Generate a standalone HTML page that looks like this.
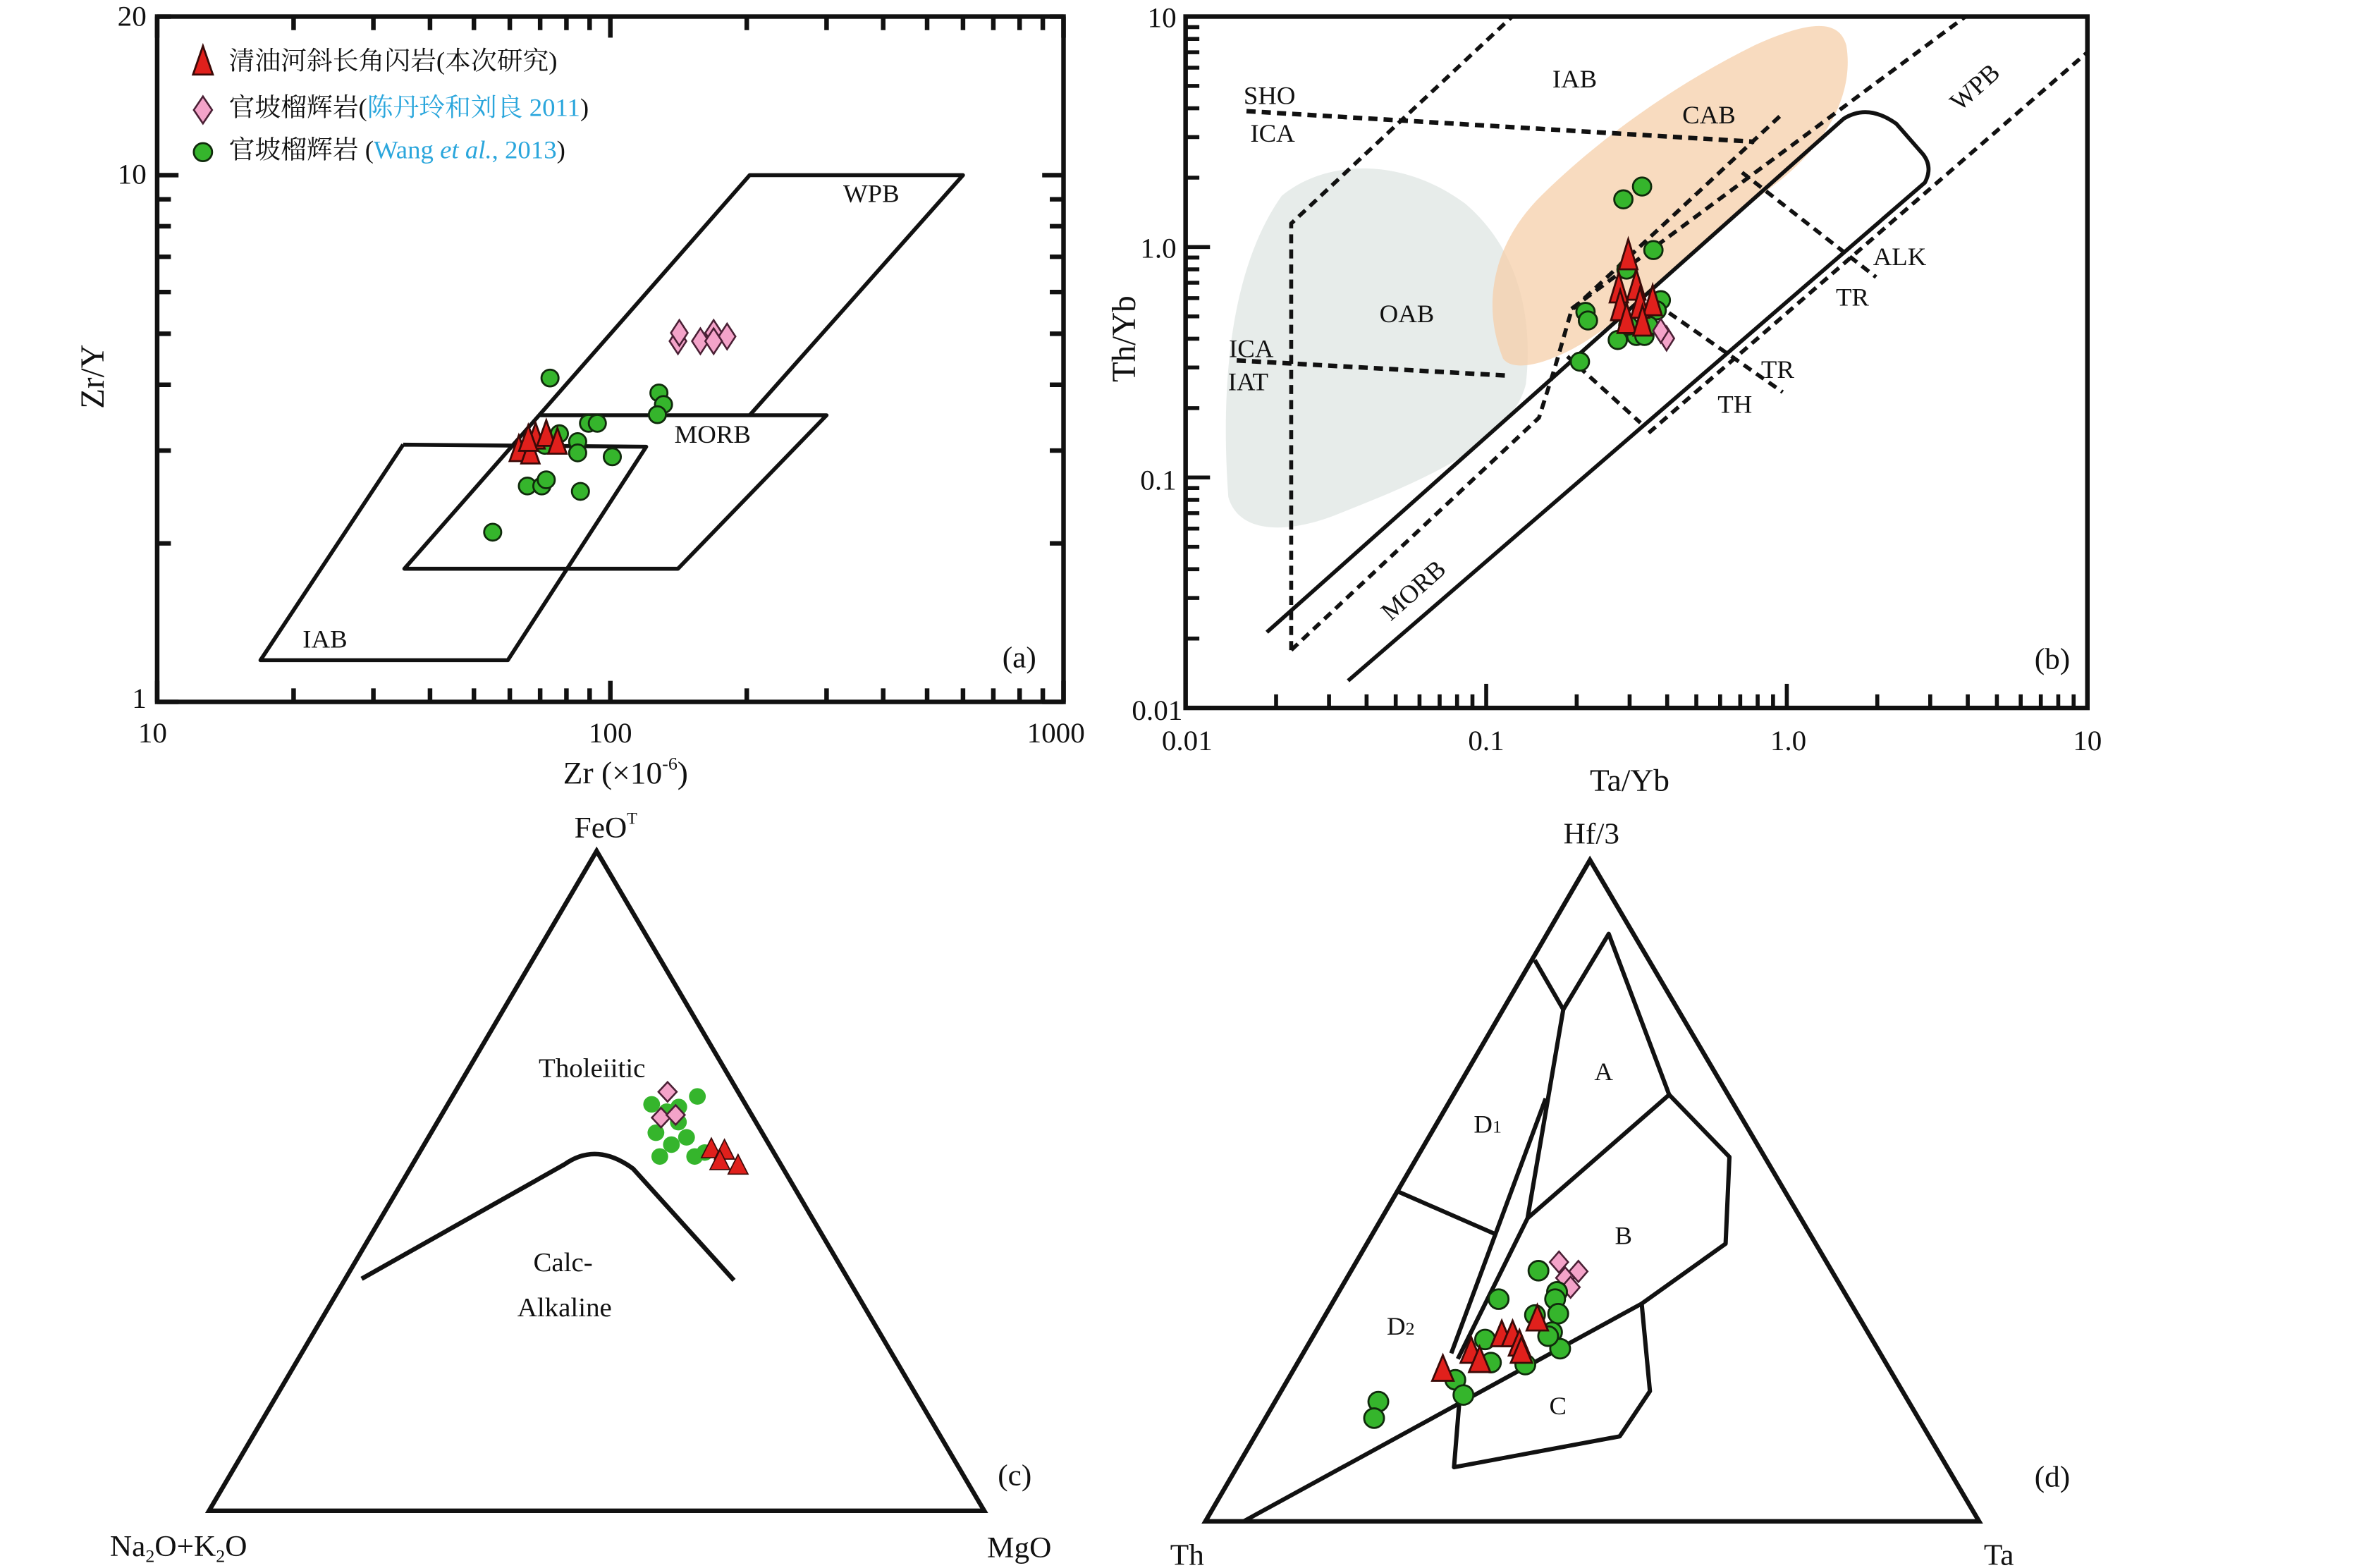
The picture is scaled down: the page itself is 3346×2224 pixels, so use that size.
<!DOCTYPE html>
<html><head><meta charset="utf-8">
<style>
html,body{margin:0;padding:0;background:#fff;}
svg{display:block;}
text{font-family:"Liberation Serif","Noto Serif CJK SC",serif;fill:#111;}
.cjk{font-family:"Liberation Serif","Noto Serif CJK SC","Noto Sans CJK SC",serif;}
</style></head>
<body>
<svg id="fig" xmlns="http://www.w3.org/2000/svg" width="3346" height="2224" viewBox="0 0 1546 1041" preserveAspectRatio="none">
<rect x="0" y="0" width="1546" height="1041" fill="#fff"/>
<g id="pa">
  <text x="96" y="17" font-size="19" text-anchor="end">20</text>
  <text x="96" y="122" font-size="19" text-anchor="end">10</text>
  <text x="96" y="470" font-size="19" text-anchor="end">1</text>
  <text x="100" y="493" font-size="19" text-anchor="middle">10</text>
  <text x="400" y="493" font-size="19" text-anchor="middle">100</text>
  <text x="692" y="493" font-size="19" text-anchor="middle">1000</text>
  <text x="410" y="520" font-size="21" text-anchor="middle">Zr (×10<tspan font-size="12" dy="-9">-6</tspan><tspan dy="9">)</tspan></text>
  <text x="0" y="0" font-size="22" text-anchor="middle" transform="translate(68,250) rotate(-90)">Zr/Y</text>
  <text x="571" y="134" font-size="17" text-anchor="middle">WPB</text>
  <text x="467" y="294" font-size="17" text-anchor="middle">MORB</text>
  <text x="213" y="430" font-size="17" text-anchor="middle">IAB</text>
  <text x="668" y="443" font-size="20" text-anchor="middle">(a)</text>
  <text class="cjk" x="150" y="46" font-size="17">清油河斜长角闪岩(本次研究)</text>
  <text class="cjk" x="150" y="77" font-size="17">官坡榴辉岩(<tspan fill="#2aa6dc">陈丹玲和刘良 2011</tspan>)</text>
  <text class="cjk" x="150" y="105" font-size="17">官坡榴辉岩 (<tspan fill="#2aa6dc">Wang <tspan font-style="italic">et al.</tspan>, 2013</tspan>)</text>
</g>
<g id="pb">
  <path d="M805,330 C800,260 805,180 840,130 C870,105 920,105 960,135 C995,165 1005,210 1000,255 C990,295 930,320 880,340 C845,355 812,355 805,330 Z" fill="#dfe5e3" opacity="0.75"/>
  <path d="M985,238 C970,200 980,160 1010,130 C1050,90 1100,55 1150,30 C1185,14 1205,12 1210,30 C1215,60 1200,95 1160,125 C1110,165 1070,210 1030,232 C1005,245 990,245 985,238 Z" fill="#f6cfaa" opacity="0.75"/>
  <text x="771" y="18" font-size="19" text-anchor="end">10</text>
  <text x="771" y="171" font-size="19" text-anchor="end">1.0</text>
  <text x="771" y="325" font-size="19" text-anchor="end">0.1</text>
  <text x="775" y="478" font-size="19" text-anchor="end">0.01</text>
  <text x="778" y="498" font-size="19" text-anchor="middle">0.01</text>
  <text x="974" y="498" font-size="19" text-anchor="middle">0.1</text>
  <text x="1172" y="498" font-size="19" text-anchor="middle">1.0</text>
  <text x="1368" y="498" font-size="19" text-anchor="middle">10</text>
  <text x="1068" y="525" font-size="21" text-anchor="middle">Ta/Yb</text>
  <text x="0" y="0" font-size="22" text-anchor="middle" transform="translate(744,225) rotate(-90)">Th/Yb</text>
  <text x="832" y="69" font-size="17" text-anchor="middle">SHO</text>
  <text x="834" y="94" font-size="17" text-anchor="middle">ICA</text>
  <text x="1032" y="58" font-size="17" text-anchor="middle">IAB</text>
  <text x="1120" y="82" font-size="17" text-anchor="middle">CAB</text>
  <text x="922" y="214" font-size="17" text-anchor="middle">OAB</text>
  <text x="820" y="237" font-size="17" text-anchor="middle">ICA</text>
  <text x="818" y="259" font-size="17" text-anchor="middle">IAT</text>
  <text x="1245" y="176" font-size="17" text-anchor="middle">ALK</text>
  <text x="1214" y="203" font-size="17" text-anchor="middle">TR</text>
  <text x="1165" y="251" font-size="17" text-anchor="middle">TR</text>
  <text x="1137" y="274" font-size="17" text-anchor="middle">TH</text>
  <text x="0" y="0" font-size="17" text-anchor="middle" transform="translate(1298,62) rotate(-42)">WPB</text>
  <text x="0" y="0" font-size="17" text-anchor="middle" transform="translate(930,396) rotate(-42)">MORB</text>
  <text x="1345" y="444" font-size="20" text-anchor="middle">(b)</text>
</g>
<g id="pc">
  <text x="397" y="556" font-size="20" text-anchor="middle">FeO<tspan font-size="11" dy="-9">T</tspan></text>
  <text x="117" y="1033" font-size="20" text-anchor="middle">Na<tspan font-size="12" dy="4">2</tspan><tspan dy="-4">O+K</tspan><tspan font-size="12" dy="4">2</tspan><tspan dy="-4">O</tspan></text>
  <text x="668" y="1034" font-size="20" text-anchor="middle">MgO</text>
  <text x="388" y="715" font-size="18" text-anchor="middle">Tholeiitic</text>
  <text x="369" y="844" font-size="18" text-anchor="middle">Calc-</text>
  <text x="370" y="874" font-size="18" text-anchor="middle">Alkaline</text>
  <text x="665" y="986" font-size="20" text-anchor="middle">(c)</text>
</g>
<g id="pd">
  <text x="1043" y="560" font-size="20" text-anchor="middle">Hf/3</text>
  <text x="778" y="1039" font-size="20" text-anchor="middle">Th</text>
  <text x="1310" y="1039" font-size="20" text-anchor="middle">Ta</text>
  <text x="1051" y="717" font-size="17" text-anchor="middle">A</text>
  <text x="1064" y="826" font-size="17" text-anchor="middle">B</text>
  <text x="1021" y="939" font-size="17" text-anchor="middle">C</text>
  <text x="975" y="752" font-size="17" text-anchor="middle">D<tspan font-size="12">1</tspan></text>
  <text x="918" y="886" font-size="17" text-anchor="middle">D<tspan font-size="12">2</tspan></text>
  <text x="1345" y="987" font-size="20" text-anchor="middle">(d)</text>
</g>
</svg>
<script>
// ---------- Panel (a) data: Zr (ppm) vs Zr/Y ----------
const aTriZr = [62.8, 66.6, 68.4, 72.2, 76.4, 65.9];
const aTriZrY = [3.03, 3.0, 3.2, 3.24, 3.13, 3.17];
const aDiaZr = [141, 142, 158, 169, 181, 169];
const aDiaZrY = [4.84, 5.02, 4.84, 5.02, 4.94, 4.84];
const aCirZr = [73.6, 128, 131, 127, 89.5, 93.6, 77.2, 84.7, 71.7, 84.7, 101, 65.6, 70.6, 72.2, 85.9, 55.0];
const aCirZrY = [4.12, 3.86, 3.67, 3.51, 3.38, 3.38, 3.23, 3.12, 3.07, 2.97, 2.92, 2.57, 2.57, 2.64, 2.51, 2.10];
const aXTicks = [10, 100, 1000];
const aYTicks = [1, 10, 20];
// ---------- Panel (b) data: Ta/Yb vs Th/Yb ----------
const bTriTa = [0.297, 0.276, 0.316, 0.279, 0.325, 0.358, 0.293, 0.331];
const bTriTh = [0.931, 0.668, 0.686, 0.559, 0.573, 0.588, 0.492, 0.480];
const bDiaTa = [0.398, 0.381];
const bDiaTh = [0.401, 0.433];
const bCirTa = [0.330, 0.286, 0.360, 0.214, 0.218, 0.293, 0.274, 0.316, 0.336, 0.381, 0.369, 0.205, 0.347, 0.297];
const bCirTh = [1.83, 1.61, 0.97, 0.523, 0.480, 0.798, 0.395, 0.411, 0.411, 0.588, 0.531, 0.318, 0.456, 0.456];
// ---------- Panel (c) data: FeOT / MgO fractions ----------
const cTriF = [0.550, 0.548, 0.532, 0.525];
const cTriM = [0.373, 0.391, 0.393, 0.420];
const cDiaF = [0.635, 0.596, 0.600];
const cDiaM = [0.274, 0.285, 0.302];
const cCirF = [0.616, 0.605, 0.628, 0.573, 0.589, 0.566, 0.537, 0.555, 0.537, 0.543, 0.612];
const cCirM = [0.263, 0.288, 0.316, 0.290, 0.311, 0.333, 0.313, 0.319, 0.358, 0.368, 0.300];
// ---------- Panel (d) data: Hf/3 and Ta fractions ----------
const dTriH = [0.232, 0.259, 0.245, 0.284, 0.284, 0.270, 0.259, 0.308];
const dTriT = [0.191, 0.214, 0.232, 0.241, 0.255, 0.271, 0.279, 0.275];
const dDiaH = [0.392, 0.378, 0.368, 0.354];
const dDiaT = [0.261, 0.293, 0.281, 0.295];
const dCirH = [0.379, 0.336, 0.347, 0.336, 0.314, 0.286, 0.261, 0.237, 0.240, 0.275, 0.214, 0.191, 0.181, 0.156, 0.312, 0.280];
const dCirT = [0.241, 0.211, 0.281, 0.284, 0.299, 0.305, 0.328, 0.295, 0.249, 0.224, 0.216, 0.238, 0.133, 0.140, 0.270, 0.303];

const NS = "http://www.w3.org/2000/svg";
const L = Math.log10;
function ax(v){ return 103 + 297 * (L(v) - 1); }
function ay(v){ return 466 - 349.7 * L(v); }
function bx(v){ return 777 + 197 * (L(v) + 2); }
function by(v){ return 470 - 153 * (L(v) + 2); }
function tc(F, M){ return [137 + 508 * (M + F / 2), 1003 - 438 * F]; }
function td(H, T){ return [790 + 507 * (T + H / 2), 1010 - 439 * H]; }
function z2(x, y){ return [777 + (x - 85) * 0.5324, 11 + (y - 35) * 0.3392]; }
function z3(x, y){ return [790 + (x - 45) * 0.3596, 571 + (y - 28) * 0.3061]; }

function mk(tag, attrs, parent){
  const e = document.createElementNS(NS, tag);
  for (const k in attrs) e.setAttribute(k, attrs[k]);
  parent.insertBefore(e, parent.querySelector('text'));
  return e;
}
function mkTop(tag, attrs, parent){
  const e = document.createElementNS(NS, tag);
  for (const k in attrs) e.setAttribute(k, attrs[k]);
  parent.appendChild(e);
  return e;
}
function pts(arr){ return arr.map(p => p[0].toFixed(1) + "," + p[1].toFixed(1)).join(" "); }
const RED = "#e0201c", GREEN = "#35b52c", PINK = "#f4a3c9";

function line(parent, arr, name, dashed, w){
  const el = mk("polyline", {points: pts(arr), fill: "none", stroke: "#111", "stroke-width": w || 2.6, "stroke-dasharray": dashed ? "6,4" : "none", "stroke-linejoin": "round"}, parent);
  
  
  return el;
}
function tri(parent, cx, cy, w, h, name, sw){
  const el = mkTop("polygon", {points: pts([[cx, cy - h/2], [cx - w/2, cy + h/2], [cx + w/2, cy + h/2]]), fill: RED, stroke: "#3a0a08", "stroke-width": sw == null ? 1.3 : sw}, parent);
  
  
}
function dia(parent, cx, cy, w, h, name){
  const el = mkTop("polygon", {points: pts([[cx, cy - h/2], [cx + w/2, cy], [cx, cy + h/2], [cx - w/2, cy]]), fill: PINK, stroke: "#4a2035", "stroke-width": 1.2}, parent);
  
  
}
function cir(parent, cx, cy, r, name, sw){
  const el = mkTop("circle", {cx: cx, cy: cy, r: r, fill: GREEN, stroke: "#102a0c", "stroke-width": sw == null ? 1.3 : sw}, parent);
  
  
}

// ===== Panel (a) =====
const pa = document.getElementById("pa");
const frameA = mk("rect", {x: 103, y: 11, width: 594, height: 455, fill: "none", stroke: "#111", "stroke-width": 3}, pa);


for (let d = 10; d <= 1000; d *= 10) {
  for (let m = 1; m < 10; m++) {
    const v = d * m; if (v > 1000) break;
    const x = ax(v), len = (m === 1) ? 14 : 9;
    const t1 = mk("line", {x1: x, y1: 466, x2: x, y2: 466 - len, stroke: "#111", "stroke-width": 3}, pa);
    
    
    const t2 = mk("line", {x1: x, y1: 11, x2: x, y2: 11 + len, stroke: "#111", "stroke-width": 3}, pa);
    
    
  }
}
for (let v = 1; v <= 20; v += (v < 10 ? 1 : 10)) {
  const y = ay(v), len = (v === 1 || v === 10) ? 14 : 9;
  const t1 = mk("line", {x1: 103, y1: y, x2: 103 + len, y2: y, stroke: "#111", "stroke-width": 3}, pa);
  
  
  const t2 = mk("line", {x1: 697, y1: y, x2: 697 - len, y2: y, stroke: "#111", "stroke-width": 3}, pa);
  
  
}
function A(x, y){ return [ax(x), ay(y)]; }
line(pa, [A(69.6,3.5), A(203,10), A(600,10), A(203,3.5)], "wpb-field-boundary");
line(pa, [A(69.6,3.5), A(300,3.5), A(141,1.79), A(35.1,1.79), A(69.6,3.5)], "morb-field-boundary");
line(pa, [A(34.9,3.08), A(120,3.05), A(59.4,1.20), A(16.9,1.20), A(34.9,3.08)], "iab-field-boundary");
aCirZr.forEach((v, i) => cir(pa, ax(v), ay(aCirZrY[i]), 5.6, "point-a-guanpo-wang"));
aDiaZr.forEach((v, i) => dia(pa, ax(v), ay(aDiaZrY[i]), 11, 17, "point-a-guanpo-chen"));
aTriZr.forEach((v, i) => tri(pa, ax(v), ay(aTriZrY[i]), 12, 17, "point-a-this-study"));
tri(pa, 133, 40, 13, 19, "legend-marker-triangle");
dia(pa, 133, 73, 12, 18, "legend-marker-diamond");
cir(pa, 133, 101, 6, "legend-marker-circle");

// ===== Panel (b) =====
const pb = document.getElementById("pb");
const frameB = mk("rect", {x: 777, y: 11, width: 591, height: 459, fill: "none", stroke: "#111", "stroke-width": 3}, pb);


for (let d = 0.01; d < 10; d *= 10) {
  for (let m = 1; m < 10; m++) {
    const v = d * m, x = bx(v), len = (m === 1) ? 16 : 9;
    const t = mk("line", {x1: x, y1: 470, x2: x, y2: 470 - len, stroke: "#111", "stroke-width": 2.6}, pb);
    
    
    const y = by(v);
    const t2 = mk("line", {x1: 777, y1: y, x2: 777 + len, y2: y, stroke: "#111", "stroke-width": 2.6}, pb);
    
    
  }
}
line(pb, [z2(215,1275), z2(215,440), z2(487,35)], "ica-boundary-dashed", true);
line(pb, [z2(160,220), z2(785,280)], "sho-ica-boundary", true, 3);
line(pb, [z2(148,708), z2(485,738)], "ica-iat-boundary", true, 3);
line(pb, [z2(215,1275), z2(520,820), z2(540,720), z2(560,610), z2(820,225)], "iab-morb-dashed", true);
line(pb, [z2(560,607), z2(1045,35)], "wpb-upper-dashed", true);
line(pb, [z2(655,850), z2(1195,105)], "wpb-lower-dashed", true);
line(pb, [z2(555,700), z2(645,830)], "th-box-dashed-1", true);
line(pb, [z2(680,615), z2(820,770)], "tr-th-dashed", true);
line(pb, [z2(770,340), z2(935,545)], "alk-tr-dashed", true);
const morbB = mk("path", {d: "M" + z2(185,1240).join(",") + " L" + z2(895,235).join(",") + " Q" + z2(925,205).join(",") + " " + z2(960,245).join(",") + " L" + z2(993,305).join(",") + " Q" + z2(1005,330).join(",") + " " + z2(995,360).join(",") + " L" + z2(285,1335).join(","), fill: "none", stroke: "#111", "stroke-width": 2.6}, pb);


bCirTa.forEach((v, i) => cir(pb, bx(v), by(bCirTh[i]), 6, "point-b-guanpo-wang"));
bDiaTa.forEach((v, i) => dia(pb, bx(v), by(bDiaTh[i]), 10, 16, "point-b-guanpo-chen"));
bTriTa.forEach((v, i) => tri(pb, bx(v), by(bTriTh[i]), 12, 20, "point-b-this-study"));

// ===== Panel (c) =====
const pc = document.getElementById("pc");
const triC = mk("polygon", {points: "391,565 137,1003 645,1003", fill: "none", stroke: "#111", "stroke-width": 3}, pc);


const curveC = mk("path", {d: "M237,849 L370,773 Q391,758 415,776 L481,850", fill: "none", stroke: "#111", "stroke-width": 3}, pc);


cCirF.forEach((f, i) => { const p = tc(f, cCirM[i]); cir(pc, p[0], p[1], 5.5, "point-c-guanpo-wang", 0); });
cDiaF.forEach((f, i) => { const p = tc(f, cDiaM[i]); dia(pc, p[0], p[1], 12, 13, "point-c-guanpo-chen"); });
cTriF.forEach((f, i) => { const p = tc(f, cTriM[i]); tri(pc, p[0], p[1], 13, 13, "point-c-this-study", 0.8); });

// ===== Panel (d) =====
const pd = document.getElementById("pd");
const triD = mk("polygon", {points: "1042,571 790,1010 1297,1010", fill: "none", stroke: "#111", "stroke-width": 3}, pd);


line(pd, [z3(645,245), z3(697,352)], "d-boundary-top", false, 2.8);
line(pd, [z3(697,352), z3(780,188), z3(890,537)], "a-field-top", false, 2.8);
line(pd, [z3(697,352), z3(632,805), z3(505,1110)], "a-left-boundary", false, 2.8);
line(pd, [z3(665,545), z3(493,1098)], "d1-d2-right-boundary", false, 2.8);
line(pd, [z3(398,748), z3(575,840)], "d1-d2-boundary", false, 2.8);
line(pd, [z3(890,537), z3(632,805)], "a-b-boundary", false, 2.8);
line(pd, [z3(115,1462), z3(840,990), z3(993,860), z3(1000,672), z3(890,537)], "b-field-boundary", false, 2.8);
line(pd, [z3(840,990), z3(855,1180), z3(800,1278), z3(498,1345), z3(510,1170)], "c-field-boundary", false, 2.8);
dDiaH.forEach((h, i) => { const p = td(h, dDiaT[i]); dia(pd, p[0], p[1], 12, 14, "point-d-guanpo-chen"); });
dCirH.forEach((h, i) => { const p = td(h, dCirT[i]); cir(pd, p[0], p[1], 6.5, "point-d-guanpo-wang"); });
dTriH.forEach((h, i) => { const p = td(h, dTriT[i]); tri(pd, p[0], p[1], 14, 17, "point-d-this-study"); });
</script>
</body></html>
